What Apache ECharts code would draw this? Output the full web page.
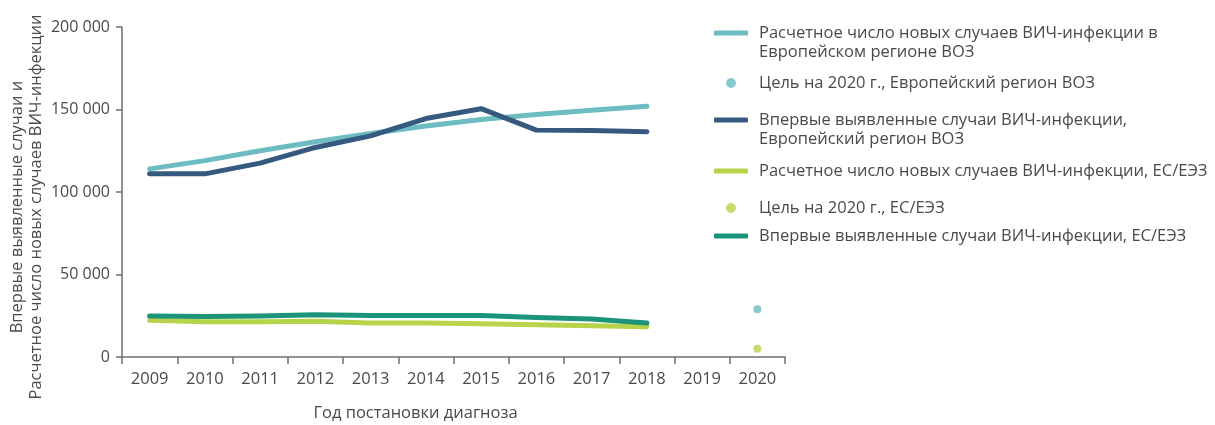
<!DOCTYPE html>
<html>
<head>
<meta charset="utf-8">
<script src="https://cdn.jsdelivr.net/npm/echarts@6/dist/echarts.min.js"></script>
<style>
  html, body { margin: 0; padding: 0; background: #fff; }
  #chart { width: 1215px; height: 425px; }
</style>
</head>
<body>
<div id="chart"></div>
<script>
// годы постановки диагноза
const years = ['2009', '2010', '2011', '2012', '2013', '2014', '2015', '2016', '2017', '2018', '2019', '2020']

// Европейский регион ВОЗ
const estimatedWho = [114000, 119000, 125000, 130500, 135500, 140000, 144000, 147000, 149500, 152000, null, null]
const diagnosedWho = [111000, 111000, 117500, 127000, 134000, 144500, 150500, 137500, 137300, 136500, null, null]
const targetWho = [null, null, null, null, null, null, null, null, null, null, null, 29000]

// ЕС/ЕЭЗ
const estimatedEu = [22200, 21400, 21400, 21600, 20600, 20600, 20200, 19600, 19000, 18300, null, null]
const diagnosedEu = [24800, 24600, 24800, 25600, 25200, 25200, 25200, 24000, 23000, 20600, null, null]
const targetEu = [null, null, null, null, null, null, null, null, null, null, null, 5000]

const names = [
  'Расчетное число новых случаев ВИЧ-инфекции в\nЕвропейском регионе ВОЗ',
  'Цель на 2020 г., Европейский регион ВОЗ',
  'Впервые выявленные случаи ВИЧ-инфекции,\nЕвропейский регион ВОЗ',
  'Расчетное число новых случаев ВИЧ-инфекции, ЕС/ЕЭЗ',
  'Цель на 2020 г., ЕС/ЕЭЗ',
  'Впервые выявленные случаи ВИЧ-инфекции, ЕС/ЕЭЗ'
]
const colors = ['#6dbcc1', '#6dbcc1', '#35597f', '#b6d34a', '#b6d34a', '#1b9479']

const font = '"Open Sans", "Noto Sans", sans-serif'
const textColor = '#4a4a4a'

function lineSeries(i, data) {
  return {
    name: names[i],
    type: 'line',
    data: data,
    symbol: 'none',
    smooth: false,
    lineStyle: { width: 5, color: colors[i], cap: 'round', join: 'round' },
    itemStyle: { color: colors[i] },
    z: 2 + i
  }
}

function scatterSeries(i, data) {
  return {
    name: names[i],
    type: 'scatter',
    data: data,
    symbolSize: 8,
    itemStyle: { color: colors[i] },
    z: 10
  }
}

// отдельная легенда для каждого элемента, чтобы повторить неровные отступы
const legendTops = [4.5, 73.5, 91.5, 161.5, 198.5, 226.5]
const legends = names.map((n, i) => {
  const isDot = i === 1 || i === 4
  const twoLines = n.indexOf('\n') >= 0
  return {
    left: isDot ? 726 : 714,
    top: legendTops[i],
    padding: 0,
    orient: 'vertical',
    icon: isDot ? 'circle' : 'roundRect',
    itemWidth: isDot ? 10 : 34,
    itemHeight: isDot ? 10 : 5,
    selectedMode: false,
    data: [n],
    // пустая первая строка, чтобы значок стоял напротив первой строки текста
    formatter: name => (twoLines ? '\n' + name : name),
    textStyle: {
      fontFamily: font,
      fontSize: 16.5,
      color: textColor,
      lineHeight: 19,
      padding: [0, 0, 0, isDot ? 18 : 6]
    }
  }
})

const chart = echarts.init(document.getElementById('chart'))
chart.setOption({
  animation: false,
  textStyle: { fontFamily: font },
  legend: legends,
  grid: { left: 122, right: 430, top: 27, bottom: 68, containLabel: false, outerBoundsMode: 'none' },
  xAxis: {
    type: 'category',
    data: years,
    boundaryGap: true,
    name: 'Год постановки диагноза',
    nameLocation: 'middle',
    nameGap: 48,
    nameMoveOverlap: false,
    nameTextStyle: { fontFamily: font, fontSize: 16.5, color: textColor, padding: [0, 76, 0, 0] },
    axisLine: { lineStyle: { color: '#6e6e6e', width: 1.5 } },
    axisTick: { show: true, length: 7, lineStyle: { color: '#6e6e6e', width: 1.5 } },
    axisLabel: { fontFamily: font, fontSize: 16.5, color: textColor, margin: 14 }
  },
  yAxis: {
    type: 'value',
    min: 0,
    max: 200000,
    interval: 50000,
    name: 'Впервые выявленные случаи и\nРасчетное число новых случаев ВИЧ-инфекции',
    nameLocation: 'middle',
    nameGap: 76,
    nameMoveOverlap: false,
    nameTextStyle: { fontFamily: font, fontSize: 16.5, color: textColor, lineHeight: 19, padding: [0, 30, 0, 0] },
    axisLine: { show: true, lineStyle: { color: '#6e6e6e', width: 1.5 } },
    axisTick: { show: true, length: 6, lineStyle: { color: '#6e6e6e', width: 1.5 } },
    splitLine: { show: false },
    axisLabel: {
      fontFamily: font,
      fontSize: 16,
      color: textColor,
      margin: 12,
      formatter: v => String(v).replace(/\B(?=(\d{3})+(?!\d))/g, ' ')
    }
  },
  series: [
    lineSeries(0, estimatedWho),
    scatterSeries(1, targetWho),
    lineSeries(2, diagnosedWho),
    lineSeries(3, estimatedEu),
    scatterSeries(4, targetEu),
    lineSeries(5, diagnosedEu)
  ]
})
</script>
</body>
</html>
